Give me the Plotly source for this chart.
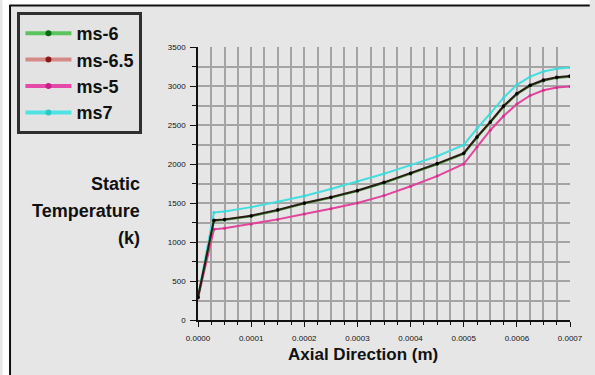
import plotly.graph_objects as go

# Axial positions (m)
axial = [0.0, 0.00003, 0.00005, 0.0001, 0.00015, 0.0002, 0.00025, 0.0003,
         0.00035, 0.0004, 0.00045, 0.0005, 0.000525, 0.00055, 0.000575,
         0.0006, 0.000625, 0.00065, 0.000675, 0.0007]

# Static temperature (K) for each mass-flow case
temp_ms6 = [288, 1272, 1282, 1330, 1404, 1492, 1567, 1652, 1757, 1872,
            1997, 2130, 2339, 2532, 2735, 2895, 3002, 3068, 3104, 3120]
temp_ms65 = [292, 1280, 1290, 1338, 1412, 1500, 1575, 1660, 1765, 1880,
             2005, 2138, 2347, 2540, 2743, 2903, 3010, 3076, 3112, 3128]
temp_ms5 = [280, 1162, 1175, 1228, 1290, 1360, 1425, 1500, 1595, 1715,
            1845, 2000, 2219, 2433, 2615, 2768, 2878, 2945, 2980, 2995]
temp_ms7 = [300, 1378, 1392, 1447, 1515, 1590, 1680, 1775, 1875, 1985,
            2100, 2245, 2455, 2647, 2850, 3015, 3120, 3185, 3220, 3236]

labels = ["ms-6", "ms-6.5", "ms-5", "ms7"]
legend_line = ["#5cc45c", "#d48a86", "#e64aa8", "#4fe3e3"]
legend_marker = ["#0b6b12", "#8a1a14", "#c8208a", "#2cc8c8"]

W, H = 595, 375
L, R, T, B = 198, 20, 47, 55


def px_x(p):
    return (p - L) / (W - L - R)


def px_y(p):
    return (H - B - p) / (H - T - B)


fig = go.Figure()

# plotted curves
fig.add_trace(go.Scatter(x=axial, y=temp_ms7, mode="lines+markers",
                         line=dict(color="#45dede", width=2),
                         marker=dict(color="#3ad6d6", size=3),
                         showlegend=False))
fig.add_trace(go.Scatter(x=axial, y=temp_ms5, mode="lines+markers",
                         line=dict(color="#e2449c", width=2),
                         marker=dict(color="#d0308c", size=3),
                         showlegend=False))
fig.add_trace(go.Scatter(x=axial, y=temp_ms6, mode="lines+markers",
                         line=dict(color="#3f9a3a", width=2),
                         marker=dict(color="#124d12", size=3),
                         showlegend=False))
fig.add_trace(go.Scatter(x=axial, y=temp_ms65, mode="lines+markers",
                         line=dict(color="#2a1c14", width=2),
                         marker=dict(color="#000000", size=3.5),
                         showlegend=False))

# legend entries
for name, lc, mc in zip(labels, legend_line, legend_marker):
    fig.add_trace(go.Scatter(x=[None], y=[None], mode="lines+markers",
                             name="<b>%s</b>" % name,
                             line=dict(color=lc, width=4),
                             marker=dict(color=mc, size=6)))

font_family = "Liberation Sans, Arial, sans-serif"
grid = "#a4a4a4"

fig.update_layout(
    width=W, height=H,
    margin=dict(l=L, r=R, t=T, b=B),
    paper_bgcolor="#e6e6e6",
    plot_bgcolor="#e6e6e6",
    font=dict(family=font_family, color="#111111"),
    legend=dict(
        x=px_x(15), y=px_y(12), xanchor="left", yanchor="top",
        bgcolor="#e3e3e3", bordercolor="#2f2f2f", borderwidth=3,
        font=dict(size=18, family="Liberation Sans, Arial", color="#111111"),
        itemwidth=46, tracegroupgap=0,
    ),
    xaxis=dict(
        range=[0, 0.0007], dtick=0.0001, tick0=0, tickformat=".4f",
        showline=True, linecolor="#111111", linewidth=1.5,
        ticks="outside", ticklen=5, tickcolor="#111111",
        tickfont=dict(size=8, color="#111111"), ticklabelstandoff=5,
        showgrid=True, gridcolor=grid, gridwidth=1.5,
        minor=dict(dtick=0.000025, showgrid=True, gridcolor=grid,
                   gridwidth=1.5, ticks="outside", ticklen=3,
                   tickcolor="#111111"),
        zeroline=False, fixedrange=True,
    ),
    yaxis=dict(
        range=[0, 3500], dtick=500, tick0=0,
        showline=True, linecolor="#111111", linewidth=1.5,
        ticks="outside", ticklen=6, tickcolor="#111111",
        tickfont=dict(size=8, color="#111111"), ticklabelstandoff=3,
        showgrid=True, gridcolor=grid, gridwidth=1.5,
        minor=dict(dtick=250, showgrid=True, gridcolor=grid,
                   gridwidth=1.5, ticks="outside", ticklen=4,
                   tickcolor="#111111"),
        zeroline=False, fixedrange=True,
    ),
)

# axis titles
for txt, yc in [("Static", 184), ("Temperature", 211), ("(k)", 238)]:
    fig.add_annotation(text="<b>%s</b>" % txt, xref="paper", yref="paper",
                       x=px_x(141), y=px_y(yc), xanchor="right",
                       yanchor="middle", showarrow=False,
                       font=dict(size=18, family=font_family, color="#111111"))

fig.add_annotation(text="<b>Axial Direction (m)</b>", xref="paper",
                   yref="paper", x=px_x(365), y=px_y(354), xanchor="center",
                   yanchor="middle", showarrow=False,
                   font=dict(size=17, family=font_family, color="#111111"))

# outer frame: white margin strip with a dark top and left edge
fig.add_shape(type="rect", xref="paper", yref="paper",
              x0=px_x(0), x1=px_x(W), y0=px_y(0), y1=px_y(5),
              fillcolor="white", line=dict(width=0), layer="below")
fig.add_shape(type="rect", xref="paper", yref="paper",
              x0=px_x(0), x1=px_x(7), y0=px_y(0), y1=px_y(H),
              fillcolor="white", line=dict(width=0), layer="below")
fig.add_shape(type="line", xref="paper", yref="paper",
              x0=px_x(7), x1=px_x(W), y0=px_y(5.5), y1=px_y(5.5),
              line=dict(color="#111111", width=2))
fig.add_shape(type="line", xref="paper", yref="paper",
              x0=px_x(7.5), x1=px_x(7.5), y0=px_y(5), y1=px_y(H),
              line=dict(color="#111111", width=2))

fig.write_html("out.html")
